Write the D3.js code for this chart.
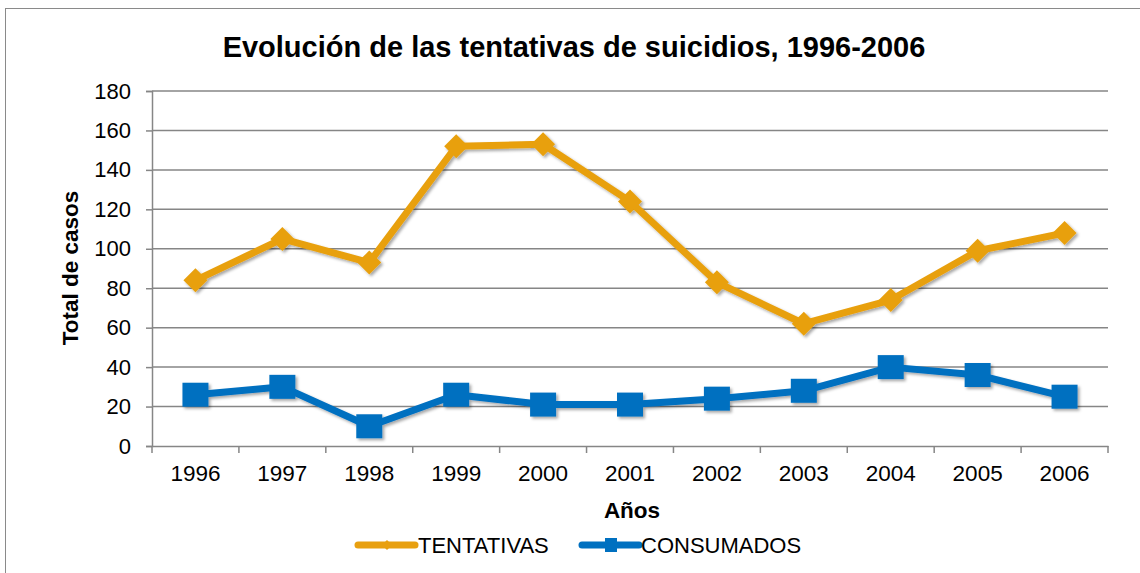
<!DOCTYPE html>
<html><head><meta charset="utf-8">
<script src="https://cdn.jsdelivr.net/npm/d3@7"></script>
<style>body{margin:0;background:#fff}svg{display:block;font-family:"Liberation Sans",Arial,sans-serif}</style>
</head><body><svg id="c" width="1140" height="573"></svg>
<script>
const years = ["1996","1997","1998","1999","2000","2001","2002","2003","2004","2005","2006"];
const tentativas = [84,105,93,152,153,124,83,62,74,99,108];
const consumados = [26,30,10,26,21,21,24,28,40,36,25];
const yTicks = [0,20,40,60,80,100,120,140,160,180];
const seriesNames = ["TENTATIVAS","CONSUMADOS"];
const colors = ["#E8A010","#0070C0"];

const svg = d3.select("#c");
const defs = svg.append("defs");
const f = defs.append("filter").attr("id","sh").attr("x","-20%").attr("y","-20%").attr("width","140%").attr("height","140%");
f.append("feDropShadow").attr("dx",2).attr("dy",2).attr("stdDeviation",1.8).attr("flood-color","#000").attr("flood-opacity",0.35);

svg.append("rect").attr("x",5.5).attr("y",8.5).attr("width",1140).attr("height",570).attr("fill","#fff").attr("stroke","#8a8a8a").attr("stroke-width",1);

const L=152,R=1108,T=91,B=446;
const x = d3.scaleBand().domain(years).range([L,R]);
const y = d3.scaleLinear().domain([0,180]).range([B,T]);

// gridlines
svg.append("g").selectAll("line").data(yTicks.filter(d=>d>0)).join("line")
  .attr("x1",L).attr("x2",R).attr("y1",d=>y(d)).attr("y2",d=>y(d))
  .attr("stroke","#868686").attr("stroke-width",1.5);

// y axis
const ya = svg.append("g").attr("transform",`translate(${L},0)`)
  .call(d3.axisLeft(y).tickValues(yTicks).tickSize(6).tickPadding(15));
ya.select(".domain").attr("stroke","#868686").attr("stroke-width",1.5);
ya.selectAll(".tick line").attr("stroke","#868686").attr("stroke-width",1.5);
ya.selectAll("text").attr("font-size",22).attr("fill","#000").attr("font-family","Liberation Sans, Arial");

// x axis
const xa = svg.append("g").attr("transform",`translate(0,${B})`)
  .call(d3.axisBottom(x).tickSize(0).tickPadding(19));
xa.select(".domain").attr("stroke","#868686").attr("stroke-width",1.5);
xa.selectAll("text").attr("font-size",22.5).attr("fill","#000").attr("font-family","Liberation Sans, Arial");
const bounds = [...years.map(d=>x(d)), R];
svg.append("g").selectAll("line").data(bounds).join("line")
  .attr("x1",d=>d).attr("x2",d=>d).attr("y1",B).attr("y2",B+7)
  .attr("stroke","#868686").attr("stroke-width",1.5);

// title
svg.append("text").attr("x",574).attr("y",57).attr("text-anchor","middle")
  .attr("font-size",29).attr("font-weight","bold").text("Evolución de las tentativas de suicidios, 1996-2006");
svg.append("text").attr("transform",`translate(78,268) rotate(-90)`).attr("text-anchor","middle")
  .attr("font-size",22.5).attr("font-weight","bold").text("Total de casos");
svg.append("text").attr("x",632).attr("y",518).attr("text-anchor","middle")
  .attr("font-size",22.5).attr("font-weight","bold").text("Años");

const line = d3.line().x((d,i)=>x(years[i])+x.bandwidth()/2).y(d=>y(d));
const data = [tentativas, consumados];
const diamond = s=>`M0,${-s}L${s},0L0,${s}L${-s},0Z`;

data.forEach((vals,k)=>{
  const g = svg.append("g").attr("filter","url(#sh)");
  g.append("path").datum(vals).attr("d",line).attr("fill","none")
    .attr("stroke",colors[k]).attr("stroke-width",7).attr("stroke-linejoin","round");
  const pts = g.selectAll("path.m").data(vals).join("path").attr("class","m")
    .attr("transform",(d,i)=>`translate(${x(years[i])+x.bandwidth()/2},${y(d)})`)
    .attr("fill",colors[k]);
  if(k===0) pts.attr("d",diamond(12));
  else pts.attr("d","M-13,-12H13V12H-13Z");
});

// legend
const leg = [{x0:358,tx:418},{x0:582,tx:641}];
seriesNames.forEach((n,k)=>{
  const g = svg.append("g");
  g.append("line").attr("x1",leg[k].x0).attr("x2",leg[k].x0+57).attr("y1",545).attr("y2",545)
    .attr("stroke",colors[k]).attr("stroke-width",7).attr("stroke-linecap","round");
  const cx = leg[k].x0+29;
  if(k===0) g.append("path").attr("d",diamond(5)).attr("transform",`translate(${cx},545)`).attr("fill",colors[k]);
  else g.append("rect").attr("x",cx-6).attr("y",538).attr("width",12).attr("height",14).attr("fill",colors[k]);
  g.append("text").attr("x",leg[k].tx).attr("y",553).attr("font-size",22).text(n);
});
</script></body></html>
